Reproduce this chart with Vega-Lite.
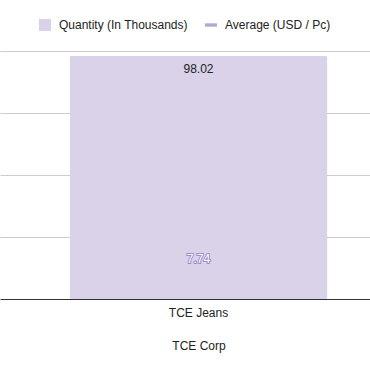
{
  "$schema": "https://vega.github.io/schema/vega-lite/v6.json",
  "width": 397,
  "height": 248,
  "autosize": {"type": "none"},
  "padding": {"left": 0, "top": 51, "right": 0, "bottom": 72},
  "background": "white",
  "config": {"view": {"stroke": null}, "font": "Liberation Sans"},
  "data": {"values": [
    {"brand": "TCE Jeans", "corp": "TCE Corp", "series": "Quantity (In Thousands)", "value": 98.02},
    {"brand": "TCE Jeans", "corp": "TCE Corp", "series": "Average (USD / Pc)", "value": 7.74}
  ]},
  "encoding": {
    "x": {
      "field": "brand", "type": "nominal", "title": "TCE Corp",
      "scale": {"paddingInner": 0, "paddingOuter": 0.2694},
      "axis": {
        "domainColor": "#333333", "ticks": false, "labelAngle": 0,
        "labelFontSize": 12, "labelColor": "#222222", "labelPadding": 8,
        "titleFontSize": 12, "titleFontWeight": "normal", "titleColor": "#222222", "titlePadding": 22
      }
    }
  },
  "layer": [
    {
      "transform": [{"filter": {"field": "series", "equal": "Quantity (In Thousands)"}}],
      "mark": {"type": "bar", "color": "#d9d2e9", "cornerRadiusTopLeft": 2, "cornerRadiusTopRight": 2},
      "encoding": {
        "y": {"field": "value", "type": "quantitative", "scale": {"domain": [0, 100], "nice": false},
          "axis": {"grid": true, "gridColor": "#cccccc", "labels": false, "ticks": false, "domain": false, "title": null, "values": [25, 50, 75, 100]}}
      }
    },
    {
      "transform": [{"filter": {"field": "series", "equal": "Quantity (In Thousands)"}}],
      "mark": {"type": "text", "baseline": "middle", "dy": 13, "fontSize": 12, "color": "#222222"},
      "encoding": {
        "y": {"field": "value", "type": "quantitative", "scale": {"domain": [0, 100], "nice": false}, "axis": null},
        "text": {"field": "value", "type": "quantitative", "format": ".2f"}
      }
    },
    {
      "transform": [{"filter": {"field": "series", "equal": "Average (USD / Pc)"}}],
      "mark": {"type": "text", "baseline": "middle", "fontSize": 12, "stroke": "#9a8ccd", "strokeWidth": 2, "fill": "#9a8ccd"},
      "encoding": {
        "y": {"field": "value", "type": "quantitative", "scale": {"domain": [0, 48], "nice": false}, "axis": null},
        "text": {"field": "value", "type": "quantitative", "format": ".2f"}
      }
    },
    {
      "transform": [{"filter": {"field": "series", "equal": "Average (USD / Pc)"}}],
      "mark": {"type": "text", "baseline": "middle", "fontSize": 12, "fill": "#ffffff"},
      "encoding": {
        "y": {"field": "value", "type": "quantitative", "scale": {"domain": [0, 48], "nice": false}, "axis": null},
        "text": {"field": "value", "type": "quantitative", "format": ".2f"}
      }
    },
    {
      "mark": {"type": "point", "filled": true, "opacity": 0},
      "encoding": {
        "color": {"field": "series", "type": "nominal",
          "scale": {"domain": ["Quantity (In Thousands)", "Average (USD / Pc)"], "range": ["#d9d2e9", "#b4a7d6"]},
          "legend": {
            "title": null, "orient": "none", "legendX": 39, "legendY": -32, "direction": "horizontal",
            "padding": 0, "symbolSize": 144, "labelFontSize": 12, "labelColor": "#222222",
            "labelOffset": 8, "columnPadding": 17, "symbolStrokeWidth": 0, "symbolOpacity": 1,
            "encode": {"symbols": {"update": {"opacity": {"value": 1}, "fillOpacity": {"value": 1}}}}
          }},
        "shape": {"field": "series", "type": "nominal",
          "scale": {"domain": ["Quantity (In Thousands)", "Average (USD / Pc)"], "range": ["square", "M-1,-0.28H1V0.28H-1Z"]},
          "legend": {"title": null}}
      }
    }
  ],
  "resolve": {"scale": {"y": "independent"}}
}
